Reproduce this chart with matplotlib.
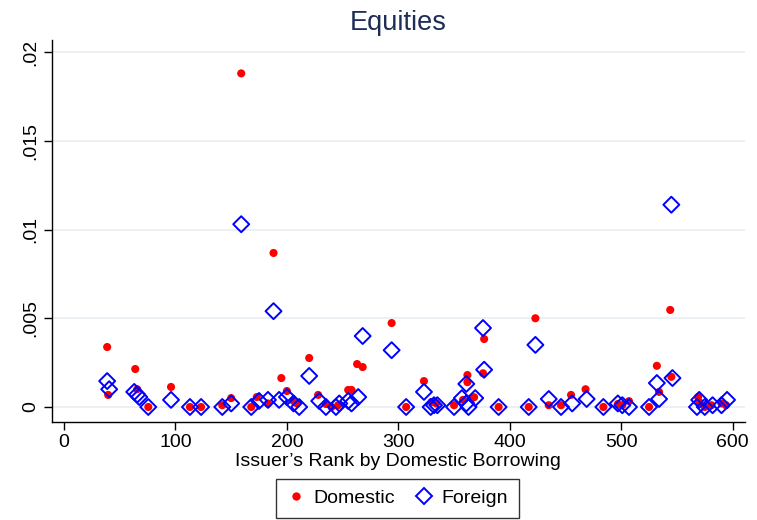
import matplotlib
matplotlib.use("Agg")
import matplotlib.pyplot as plt
from matplotlib.lines import Line2D

plt.rcParams['font.family'] = ['Liberation Sans', 'DejaVu Sans']

dom_x = [38.7, 39.6, 63.9, 65.7, 75.6, 96, 113, 123, 142, 150, 159, 168, 173, 183, 188, 195, 200, 206, 209,
         220, 228, 235, 240, 246, 255, 258, 263, 268, 294, 307, 323, 330, 334, 350, 358, 362, 362, 366, 368,
         377, 376, 390, 417, 423, 435, 446, 455, 468, 484, 497, 501, 507, 525, 532, 534, 544, 545, 569, 570,
         575, 581, 590, 594]
dom_y = [0.00338, 0.00068, 0.00214, 0.0010, 0.0, 0.00113, 0.0, 0.0, 0.0001, 0.0005, 0.0188, 0.0, 0.00056,
         0.0002, 0.00868, 0.00163, 0.0009, 0.00034, 0.0002, 0.00276, 0.00068, 0.00017, 0.0, 0.0001, 0.00096,
         0.00096, 0.00242, 0.00225, 0.00473, 0.0, 0.00146, 0.00028, 0.0002, 0.0001, 0.0004, 0.0018, 0.0014,
         0.0005, 0.00055, 0.00383, 0.0019, 0.0, 0.0, 0.0050, 0.0001, 0.0001, 0.00068, 0.0010, 0.0, 0.00017,
         0.0001, 0.00033, 0.0, 0.00232, 0.00085, 0.00547, 0.0017, 0.00056, 0.00028, 0.0, 0.0001, 0.0002, 0.0001]

for_x = [38.7, 40.5, 63, 65.7, 67.5, 75.6, 96, 113, 123, 142, 150, 159, 168, 175, 183, 188, 193, 200, 206,
         211, 220, 229, 235, 244, 247, 255, 258, 264, 268, 294, 307, 323, 329, 332, 335, 350, 357, 361, 361,
         363, 369, 376, 377, 390, 417, 423, 435, 446, 456, 469, 484, 497, 501, 507, 525, 532, 534, 545, 546,
         568, 570, 575, 582, 590, 595]
for_y = [0.00146, 0.0010, 0.00085, 0.0007, 0.00056, 0.0, 0.0004, 0.0, 0.0, 0.0, 0.0002, 0.0103, 0.0, 0.00034,
         0.0004, 0.0054, 0.0004, 0.00056, 0.0002, 0.0, 0.00175, 0.00034, 0.0, 0.0, 0.0002, 0.00034, 0.0002,
         0.00056, 0.0040, 0.0032, 0.0, 0.00085, 0.0, 0.0001, 0.0001, 0.0, 0.0005, 0.0013, 0.0002, 0.0, 0.0005,
         0.00445, 0.0021, 0.0, 0.0, 0.0035, 0.00045, 0.0, 0.0002, 0.00045, 0.0, 0.0002, 0.0001, 0.0, 0.0,
         0.00135, 0.00045, 0.0114, 0.00163, 0.0, 0.0004, 0.0, 0.0001, 0.0001, 0.0004]

x_ticks = [0, 100, 200, 300, 400, 500, 600]
y_ticks = [0, 0.005, 0.01, 0.015, 0.02]
y_labels = ['0', '.005', '.01', '.015', '.02']

fig = plt.figure(figsize=(7.57, 5.2), dpi=100)
ax = fig.add_axes([0.0687, 0.1885, 0.915, 0.7345])

ax.scatter(dom_x, dom_y, s=34, color='#ff0000', edgecolors='none', zorder=3)
ax.scatter(for_x, for_y, s=66, marker='D', facecolors='none', edgecolors='#0000ff', linewidths=1.4, zorder=4)

ax.set_xlim(-10.8, 610.8)
ax.set_ylim(-0.000845, 0.02068)
ax.set_xticks(x_ticks)
ax.set_xticklabels([str(v) for v in x_ticks], fontsize=14)
ax.set_yticks(y_ticks)
ax.set_yticklabels(y_labels, fontsize=14, rotation=90, va='center')
ax.grid(axis='y', color='#e8eef4', linewidth=1.2, zorder=0)
ax.set_axisbelow(True)
for s in ['top', 'right']:
    ax.spines[s].set_visible(False)
for s in ['left', 'bottom']:
    ax.spines[s].set_color('#000000')
    ax.spines[s].set_linewidth(1.0)
ax.tick_params(axis='both', length=6, width=1.0, colors='#000000', pad=3)
ax.set_xlabel("Issuer\u2019s Rank by Domestic Borrowing", fontsize=14, labelpad=1)
ax.set_title("Equities", fontsize=19.5, color='#1f2d56', pad=7)

handles = [Line2D([], [], linestyle='none', marker='o', markersize=6, color='#ff0000', markeredgecolor='none'),
           Line2D([], [], linestyle='none', marker='D', markersize=8, markerfacecolor='none',
                  markeredgecolor='#0000ff', markeredgewidth=1.4)]
leg = fig.legend(handles, ['Domestic', 'Foreign'], loc='lower center', bbox_to_anchor=(0.525, 0.004),
                 ncol=2, fontsize=14, frameon=True, fancybox=False, edgecolor='#000000',
                 handletextpad=0.4, columnspacing=1.0, borderpad=0.55, handlelength=1.0,
                 borderaxespad=0.0)
leg.get_frame().set_linewidth(1.0)

fig.savefig('out.png', dpi=100)
